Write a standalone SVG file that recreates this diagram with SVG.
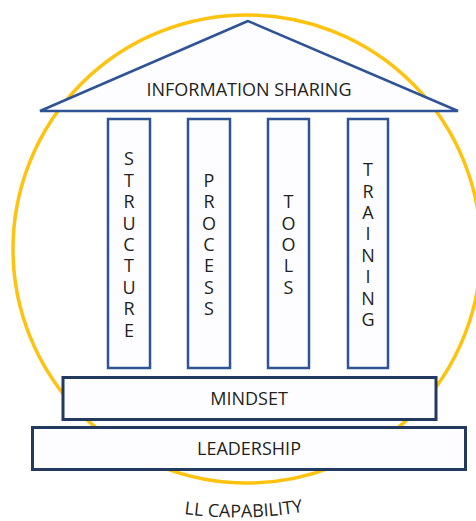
<svg xmlns="http://www.w3.org/2000/svg" width="476" height="521" viewBox="0 0 476 521">
<style>
.ring{fill:none;stroke:#FFC20E;stroke-width:3.5}
.blue{fill:#FDFDFF;stroke:#2E5496;stroke-width:2.5}
.base{fill:#FDFDFF;stroke:#233A5E;stroke-width:3}
.lbl{font-family:"Open Sans","Noto Sans","Liberation Sans",sans-serif;font-size:18px;fill:#231F20}
.mid{text-anchor:middle}
</style>
<defs>
<path id="capArc" d="M137,504.8 A400,400 0 0,0 337,504.8"/>
</defs>
<rect width="476" height="521" fill="#FFFFFF"/>
<g id="capability-ring">
<ellipse class="ring" cx="247" cy="249" rx="234" ry="234"/>
</g>
<g id="roof">
<polygon class="blue" points="248,21 40,111 458,111" stroke-linejoin="miter"/>
<text class="lbl mid" x="249" y="96">INFORMATION SHARING</text>
</g>
<g id="pillar-structure">
<rect class="blue" x="108" y="119" width="42" height="249"/>
<text class="lbl mid"><tspan x="129" y="165.4">S</tspan><tspan x="129" y="186.8">T</tspan><tspan x="129" y="208.2">R</tspan><tspan x="129" y="229.6">U</tspan><tspan x="129" y="251">C</tspan><tspan x="129" y="272.4">T</tspan><tspan x="129" y="293.8">U</tspan><tspan x="129" y="315.2">R</tspan><tspan x="129" y="336.6">E</tspan></text>
</g>
<g id="pillar-process">
<rect class="blue" x="188" y="119" width="42" height="249"/>
<text class="lbl mid"><tspan x="209" y="186.8">P</tspan><tspan x="209" y="208.2">R</tspan><tspan x="209" y="229.6">O</tspan><tspan x="209" y="251">C</tspan><tspan x="209" y="272.4">E</tspan><tspan x="209" y="293.8">S</tspan><tspan x="209" y="315.2">S</tspan></text>
</g>
<g id="pillar-tools">
<rect class="blue" x="268" y="119" width="41" height="249"/>
<text class="lbl mid"><tspan x="288.5" y="208.2">T</tspan><tspan x="288.5" y="229.6">O</tspan><tspan x="288.5" y="251">O</tspan><tspan x="288.5" y="272.4">L</tspan><tspan x="288.5" y="293.8">S</tspan></text>
</g>
<g id="pillar-training">
<rect class="blue" x="348" y="119" width="40" height="249"/>
<text class="lbl mid"><tspan x="368" y="176.1">T</tspan><tspan x="368" y="197.5">R</tspan><tspan x="368" y="218.9">A</tspan><tspan x="368" y="240.3">I</tspan><tspan x="368" y="261.7">N</tspan><tspan x="368" y="283.1">I</tspan><tspan x="368" y="304.5">N</tspan><tspan x="368" y="325.9">G</tspan></text>
</g>
<g id="mindset">
<rect class="base" x="63" y="377.5" width="373" height="42"/>
<text class="lbl mid" x="249" y="405">MINDSET</text>
</g>
<g id="leadership">
<rect class="base" x="32.5" y="427.5" width="433" height="42"/>
<text class="lbl mid" x="249" y="455">LEADERSHIP</text>
</g>
<g id="ll-capability">
<text class="lbl"><textPath href="#capArc" startOffset="48">LL CAPABILITY</textPath></text>
</g>
</svg>
